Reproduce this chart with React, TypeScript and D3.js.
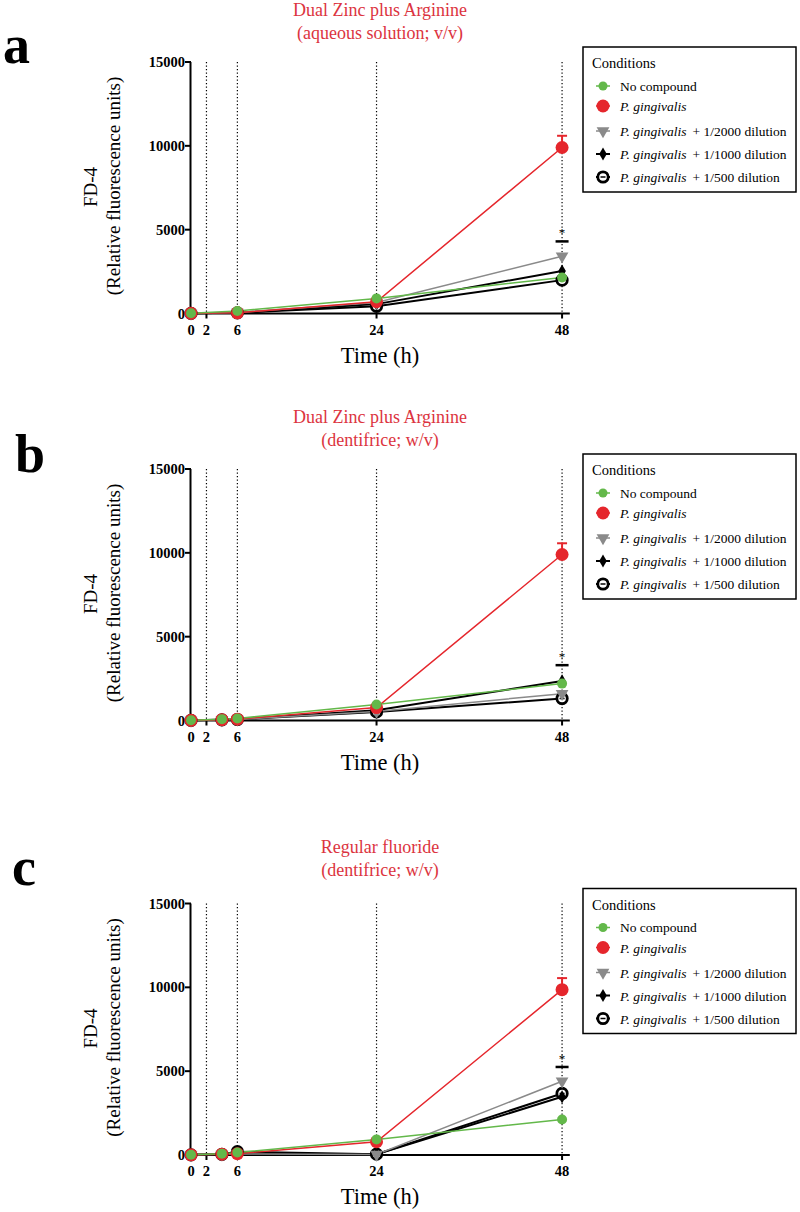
import * as d3 from 'd3';
import React from 'react';

// time points (h)
const timesA = [0, 6, 24, 48];
const timesBC = [0, 4, 6, 24, 48];
const xTicks = [0, 2, 6, 24, 48];
const guideTimes = [2, 6, 24, 48];
const yTicks = [0, 5000, 10000, 15000];

const seriesKeys = ['none', 'pg', 'd2000', 'd1000', 'd500'];
const legendSuffix = ['', '', '+ 1/2000 dilution', '+ 1/1000 dilution', '+ 1/500 dilution'];

// panel a
const aNone = [20, 150, 900, 2150];
const aPg = [10, 40, 700, 9900];
const aD2000 = [10, 60, 650, 3420];
const aD1000 = [10, 50, 560, 2530];
const aD500 = [10, 40, 430, 1990];

// panel b
const bNone = [20, 80, 120, 950, 2200];
const bPg = [10, 50, 80, 770, 9900];
const bD2000 = [10, 40, 60, 540, 1600];
const bD1000 = [10, 40, 70, 610, 2360];
const bD500 = [10, 40, 60, 510, 1310];

// panel c
const cNone = [20, 80, 150, 930, 2120];
const cPg = [10, 50, 80, 790, 9860];
const cD2000 = [10, 40, 60, 30, 4400];
const cD1000 = [10, 40, 70, 40, 3470];
const cD500 = [10, 40, 200, 50, 3670];

const pgErr48 = [700, 670, 690];
const sigLevel = [4300, 3300, 5250];

const panelLetters = ['a', 'b', 'c'];
const titleLine1 = ['Dual Zinc plus Arginine', 'Dual Zinc plus Arginine', 'Regular fluoride'];
const titleLine2 = ['(aqueous solution; v/v)', '(dentifrice; w/v)', '(dentifrice; w/v)'];

const panels = [
  { times: timesA, values: [aNone, aPg, aD2000, aD1000, aD500] },
  { times: timesBC, values: [bNone, bPg, bD2000, bD1000, bD500] },
  { times: timesBC, values: [cNone, cPg, cD2000, cD1000, cD500] },
];

// layout per panel
const plotOffset = [0, 407, 841.5];
const titleY = [10, 417, 847];
const letterPos = [
  [3, 63],
  [15, 472],
  [12, 885],
];

const GREEN = '#63b84a';
const RED = '#e5262c';
const GRAY = '#8a8a8a';
const TITLE_RED = '#dc3440';
const FONT = "'Liberation Serif', Tinos, 'Times New Roman', 'DejaVu Serif', serif";
const serif = { fontFamily: FONT };

const color: Record<string, string> = {
  none: GREEN,
  pg: RED,
  d2000: GRAY,
  d1000: '#000',
  d500: '#000',
};

const x = d3.scaleLinear().domain([0, 49]).range([191, 569.8]);
const y0 = d3.scaleLinear().domain([0, 15000]).range([313.5, 62]);

const triPath = d3.symbol(d3.symbolTriangle, 70)()!;
const diaPath = d3.symbol(d3.symbolDiamond, 50)()!;

function Marker({ k, cx, cy, legend }: { k: string; cx: number; cy: number; legend?: boolean }) {
  if (k === 'none') return <circle cx={cx} cy={cy} r={legend ? 4.5 : 5} fill={GREEN} />;
  if (k === 'pg') return <circle cx={cx} cy={cy} r={6.5} fill={RED} />;
  if (k === 'd2000')
    return <path d={triPath} transform={`translate(${cx},${cy}) rotate(180)`} fill={GRAY} />;
  if (k === 'd1000') return <path d={diaPath} transform={`translate(${cx},${cy})`} fill="#000" />;
  return (
    <g>
      <circle cx={cx} cy={cy} r={5.2} fill="#fff" stroke="#000" strokeWidth={2.8} />
      <line x1={cx - 2.5} x2={cx + 2.5} y1={cy} y2={cy} stroke="#000" strokeWidth={1.5} />
    </g>
  );
}

function Panel({ idx }: { idx: number }) {
  const off = plotOffset[idx];
  const p = panels[idx];
  const y = (v: number) => y0(v) + off;
  const base = y(0);
  const top = y(15000);
  const line = d3
    .line<number>()
    .x((_, i) => x(p.times[i]))
    .y(d => y(d));
  // drawing order: bottom to top
  const order = [4, 3, 2, 1, 0];
  const lg = { x0: 583, y0: 47 + off, w: 213, h: 145 };
  const entryY = [86, 106, 131, 154, 177].map(v => v + off);
  const x48 = x(48);
  return (
    <g style={serif}>
      <text x={letterPos[idx][0]} y={letterPos[idx][1]} fontSize={54} fontWeight="bold">
        {panelLetters[idx]}
      </text>
      <text x={380} y={titleY[idx]} fill={TITLE_RED} fontSize={18} textAnchor="middle" dominantBaseline="central">
        {titleLine1[idx]}
      </text>
      <text x={380} y={titleY[idx] + 22.5} fill={TITLE_RED} fontSize={18} textAnchor="middle" dominantBaseline="central">
        {titleLine2[idx]}
      </text>

      {/* y label */}
      <g transform={`translate(90,${187 + off}) rotate(-90)`}>
        <text textAnchor="middle" dominantBaseline="central" fontSize={19}>
          FD-4
        </text>
      </g>
      <g transform={`translate(113,${186 + off}) rotate(-90)`}>
        <text textAnchor="middle" dominantBaseline="central" fontSize={19}>
          (Relative fluorescence units)
        </text>
      </g>

      {/* guide lines */}
      {guideTimes.map(t => (
        <line key={t} x1={x(t)} x2={x(t)} y1={top} y2={base} stroke="#000" strokeWidth={1.2} strokeDasharray="1.2,2.3" />
      ))}

      {/* axes */}
      <line x1={x(0) - 0.5} x2={x(0) - 0.5} y1={top} y2={base} stroke="#000" strokeWidth={2} />
      <line x1={x(0) - 1.5} x2={x.range()[1]} y1={base} y2={base} stroke="#000" strokeWidth={2} />
      {yTicks.map(t => (
        <g key={t}>
          <line x1={x(0) - 6} x2={x(0)} y1={y(t)} y2={y(t)} stroke="#000" strokeWidth={2} />
          <text x={x(0) - 6} y={y(t)} textAnchor="end" dominantBaseline="central" fontSize={14.5} fontWeight="bold">
            {t}
          </text>
        </g>
      ))}
      {xTicks.map(t => (
        <g key={t}>
          <line x1={x(t)} x2={x(t)} y1={base} y2={base + 5} stroke="#000" strokeWidth={2} />
          <text x={x(t)} y={base + 16} textAnchor="middle" dominantBaseline="central" fontSize={14.5} fontWeight="bold">
            {t}
          </text>
        </g>
      ))}
      <text x={380} y={base + 41.5} textAnchor="middle" dominantBaseline="central" fontSize={22.5}>
        Time (h)
      </text>

      {/* series lines */}
      {order.map(si => (
        <path
          key={'l' + si}
          d={line(p.values[si])!}
          fill="none"
          stroke={color[seriesKeys[si]]}
          strokeWidth={si >= 3 ? 2 : 1.5}
        />
      ))}
      {/* error bar for P. gingivalis at 48 h */}
      {(() => {
        const v = p.values[1][p.values[1].length - 1];
        const e = pgErr48[idx];
        return (
          <g stroke={RED} strokeWidth={2}>
            <line x1={x48} x2={x48} y1={y(v)} y2={y(v + e)} />
            <line x1={x48 - 5} x2={x48 + 5} y1={y(v + e)} y2={y(v + e)} />
          </g>
        );
      })()}
      {/* markers */}
      {order.map(si =>
        p.values[si].map((v, i) => (
          <Marker key={si + '-' + i} k={seriesKeys[si]} cx={x(p.times[i])} cy={y(v)} />
        ))
      )}

      {/* significance */}
      <line x1={x48 - 6.5} x2={x48 + 6.5} y1={y(sigLevel[idx])} y2={y(sigLevel[idx])} stroke="#000" strokeWidth={2.5} />
      <text x={x48} y={y(sigLevel[idx]) - 4} textAnchor="middle" fontSize={13} fill="#000">
        *
      </text>

      {/* legend */}
      <rect x={lg.x0} y={lg.y0} width={lg.w} height={lg.h} fill="#fff" stroke="#000" strokeWidth={1.5} />
      <text x={592} y={63 + off} dominantBaseline="central" fontSize={14.5}>
        Conditions
      </text>
      {seriesKeys.map((k, i) => (
        <g key={k}>
          <line x1={596} x2={610} y1={entryY[i]} y2={entryY[i]} stroke={color[k]} strokeWidth={i >= 3 ? 2 : 1.5} />
          <Marker k={k} cx={603} cy={entryY[i]} legend />
          {k === 'none' ? (
            <text x={620} y={entryY[i]} dominantBaseline="central" fontSize={13.5}>
              No compound
            </text>
          ) : (
            <text x={620} y={entryY[i]} dominantBaseline="central" fontSize={13.5}>
              <tspan fontStyle="italic">P. gingivalis</tspan>
              {legendSuffix[i] ? <tspan dx={6}>{legendSuffix[i]}</tspan> : null}
            </text>
          )}
        </g>
      ))}
    </g>
  );
}

export default function App() {
  return (
    <svg
      width={800}
      height={1212}
      style={{ position: 'absolute', left: 0, top: 0, background: '#fff' }}
    >
      <rect width={800} height={1212} fill="#fff" />
      {[0, 1, 2].map(i => (
        <Panel key={i} idx={i} />
      ))}
    </svg>
  );
}
